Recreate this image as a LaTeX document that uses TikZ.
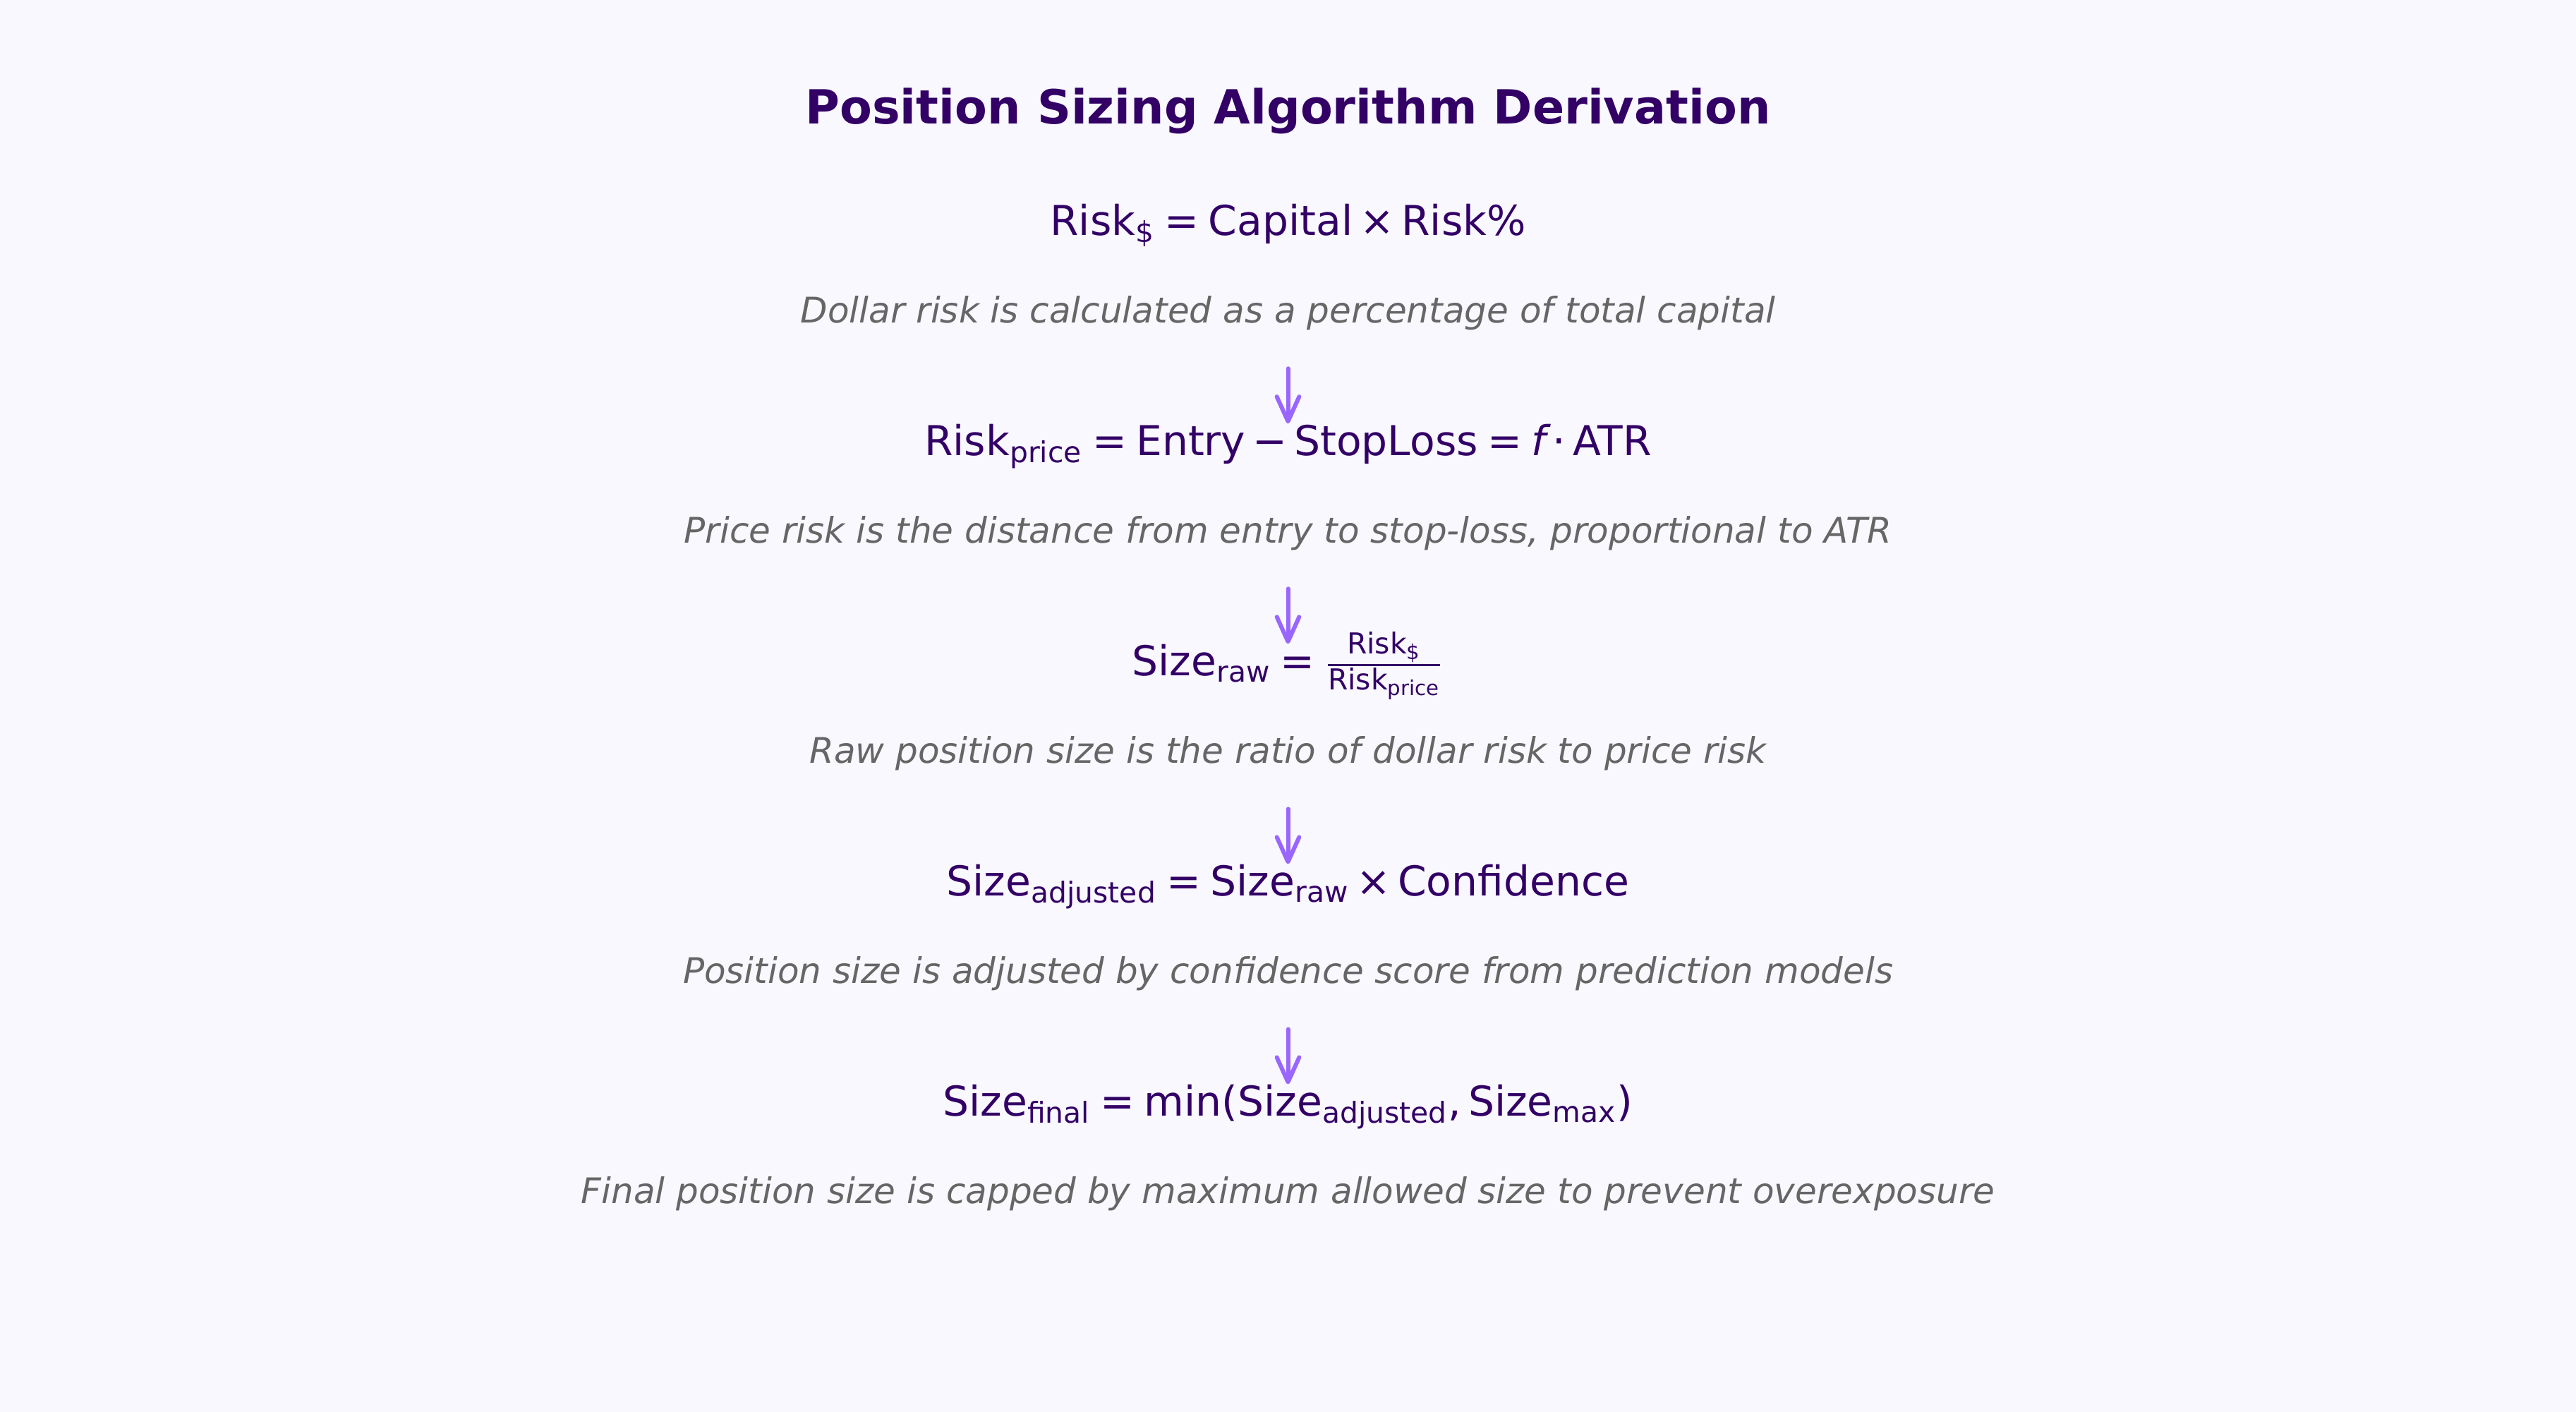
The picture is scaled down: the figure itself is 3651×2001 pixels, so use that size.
\documentclass[tikz,border=0pt]{standalone}
\usepackage{amsmath}
\usepackage{fontspec}
\setmainfont{DejaVu Sans}[ItalicFont={DejaVu Sans Oblique},BoldFont={DejaVu Sans Bold}]
\usepackage{tikz}
\usetikzlibrary{arrows.meta,positioning}
\definecolor{PSPurple}{HTML}{330066}
\definecolor{PSGray}{HTML}{666666}
\definecolor{PSViolet}{HTML}{9966FF}
\definecolor{PSBack}{HTML}{F8F8FE}
\thickmuskip=4mu
\medmuskip=3mu

\begin{document}
\begin{tikzpicture}[
    x=0.24bp,y=-0.24bp,
    heading/.style={font=\fontsize{16bp}{19bp}\selectfont\bfseries,text=PSPurple,anchor=base,inner sep=0pt},
    formula/.style={font=\fontsize{14bp}{17bp}\selectfont,text=PSPurple,inner sep=0pt},
    note/.style={font=\fontsize{12bp}{14bp}\selectfont\itshape,text=PSGray,inner sep=0pt},
    arrow/.style={-{Straight Barb[length=8.4bp,width=7.6bp,round]},line width=1.44bp,line cap=round,draw=PSViolet}
  ]
  \fill[PSBack] (0,0) rectangle (3651,2001);
  \useasboundingbox (0,0) rectangle (3651,2001);

  \node[heading] (head) at (1825.5,176) {Position Sizing Algorithm Derivation};

  \node[formula,below=37.7bp of head.base,anchor=base] (dollar)
    {$\text{Risk}_{\text{\$}} \mathrel{\text{=}} \text{Capital} \mathbin{\text{×}} \text{Risk\%}$};
  \node[note,below=29.8bp of dollar.base,anchor=base] (dollarnote)
    {Dollar risk is calculated as a percentage of total capital};

  \node[formula,below=45.1bp of dollarnote.base,anchor=base] (price)
    {$\text{Risk}_{\text{price}} \mathrel{\text{=}} \text{Entry} \mathbin{\text{−}} \text{StopLoss} \mathrel{\text{=}} \text{\itshape f} \mathbin{\text{·}} \text{ATR}$};
  \node[note,below=29.8bp of price.base,anchor=base] (pricenote)
    {Price risk is the distance from entry to stop-loss, proportional to ATR};

  \node[formula,below=45.1bp of pricenote.base,anchor=base] (raw)
    {$\text{Size}_{\text{raw}} \mathrel{\text{=}} \frac{\text{Risk}_{\text{\$}}}{\text{Risk}_{\text{price}}}$};
  \node[note,below=29.8bp of raw.base,anchor=base] (rawnote)
    {Raw position size is the ratio of dollar risk to price risk};

  \node[formula,below=45.1bp of rawnote.base,anchor=base] (adjusted)
    {$\text{Size}_{\text{adjusted}} \mathrel{\text{=}} \text{Size}_{\text{raw}} \mathbin{\text{×}} \text{Confidence}$};
  \node[note,below=29.8bp of adjusted.base,anchor=base] (adjustednote)
    {Position size is adjusted by confidence score from prediction models};

  \node[formula,below=45.1bp of adjustednote.base,anchor=base] (final)
    {$\text{Size}_{\text{final}} \mathrel{\text{=}} \text{min}\text{(}\text{Size}_{\text{adjusted}}\mathpunct{\text{,}} \text{Size}_{\text{max}}\text{)}$};
  \node[note,below=29.8bp of final.base,anchor=base] (finalnote)
    {Final position size is capped by maximum allowed size to prevent overexposure};

  \draw[arrow] ([yshift=-15.6bp]dollarnote.base) -- ([yshift=10.8bp]price.base);
  \draw[arrow] ([yshift=-15.6bp]pricenote.base) -- ([yshift=10.8bp]raw.base);
  \draw[arrow] ([yshift=-15.6bp]rawnote.base) -- ([yshift=10.8bp]adjusted.base);
  \draw[arrow] ([yshift=-15.6bp]adjustednote.base) -- ([yshift=10.8bp]final.base);
\end{tikzpicture}
\end{document}
